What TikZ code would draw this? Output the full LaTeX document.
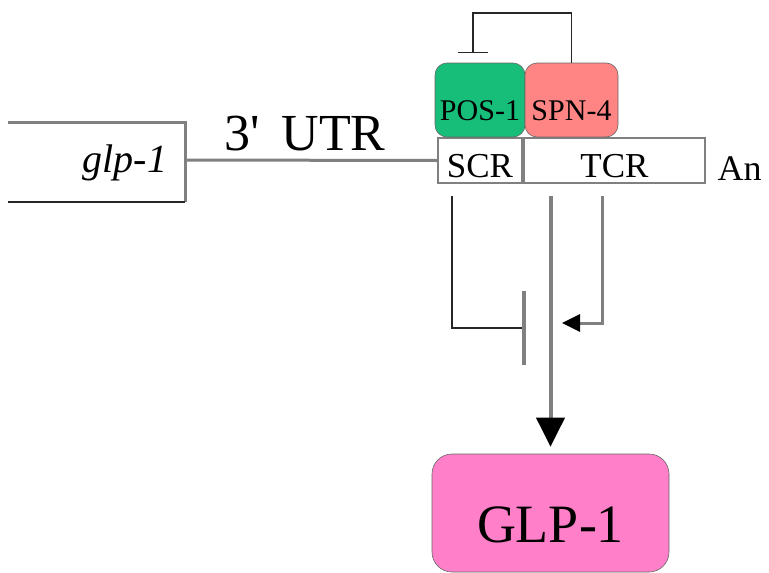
\documentclass[tikz,border=0pt]{standalone}
\usepackage{fontspec}
\setmainfont{Liberation Serif}
\usetikzlibrary{arrows.meta, positioning}

\definecolor{posgreen}{RGB}{22,190,122}
\definecolor{spnred}{RGB}{255,132,132}
\definecolor{glppink}{RGB}{255,128,200}
\definecolor{linegray}{RGB}{128,128,128}

\begin{document}
\begin{tikzpicture}[x=1pt, y=-1pt,
  region/.style={draw=linegray, line width=2.5pt, minimum height=45pt, text height=33pt, text depth=0pt, font=\fontsize{35}{35}\selectfont},
  protein/.style={draw=black!60, line width=0.6pt, rounded corners=12pt, minimum width=90pt, minimum height=74pt, text height=40pt, text depth=0pt, inner sep=0pt, font=\fontsize{30}{30}\selectfont},
  thinline/.style={black!85, line width=1.3pt},
  thickline/.style={linegray, line width=4pt}]
\useasboundingbox (0,0) rectangle (769,573);

% gene box and 3' UTR
\draw [linegray, line width=3pt] (8,122) -- (185,122) -- (185,202);
\draw [black!85, line width=2pt] (185,202) -- (8,202);
\node [font=\fontsize{40}{40}\selectfont\itshape] (gene) at (125,163) {glp-1};
\node [font=\fontsize{52}{52}\selectfont] (utr) at (305,134) {3\textquotesingle{}\, UTR};

% control regions
\node [region, minimum width=84pt] (scr) at (480,160.5) {SCR};
\node [region, minimum width=181pt] (tcr) at (614.5,160.5) {TCR};
\fill [linegray] (scr.north east) rectangle (tcr.south west);
\draw [linegray, line width=3pt] (185,160) -- (scr.west);
\node [font=\fontsize{36}{36}\selectfont, anchor=base west] (an) at (714,180) {An};

% bound proteins
\node [protein, fill=posgreen] (pos) at (480,100) {POS-1};
\node [protein, fill=spnred, minimum width=93pt] (spn) at (571.5,100) {SPN-4};
\coordinate (fbend) at (473,53);
\draw [thinline, -{Bar[width=30pt, line width=1.3pt]}] (spn.north) |- (473,13) -- (fbend);

% GLP-1 product
\node [protein, fill=glppink, minimum width=237pt, minimum height=118pt, rounded corners=20pt,
       text height=58pt, font=\fontsize{54}{54}\selectfont] (glp) at (550.5,513) {GLP-1};

% regulation
\draw [thickline, -{Triangle[width=28pt, length=29pt, color=black]}, shorten >=7pt]
  ([yshift=-12pt]glp.north |- tcr.south) -- (glp.north);
\coordinate (scrbar) at (526,328);
\draw [thinline, -{Bar[width=74pt, line width=4pt, color=linegray]}]
  ([xshift=-28pt, yshift=-12pt]scr.south) |- (scrbar);
\coordinate (tcrin) at (562,323);
\draw [linegray, line width=3pt, -{Triangle[width=17pt, length=18pt, color=black]}]
  ([xshift=-12.5pt, yshift=-12pt]tcr.south) |- (tcrin);

\end{tikzpicture}
\end{document}
